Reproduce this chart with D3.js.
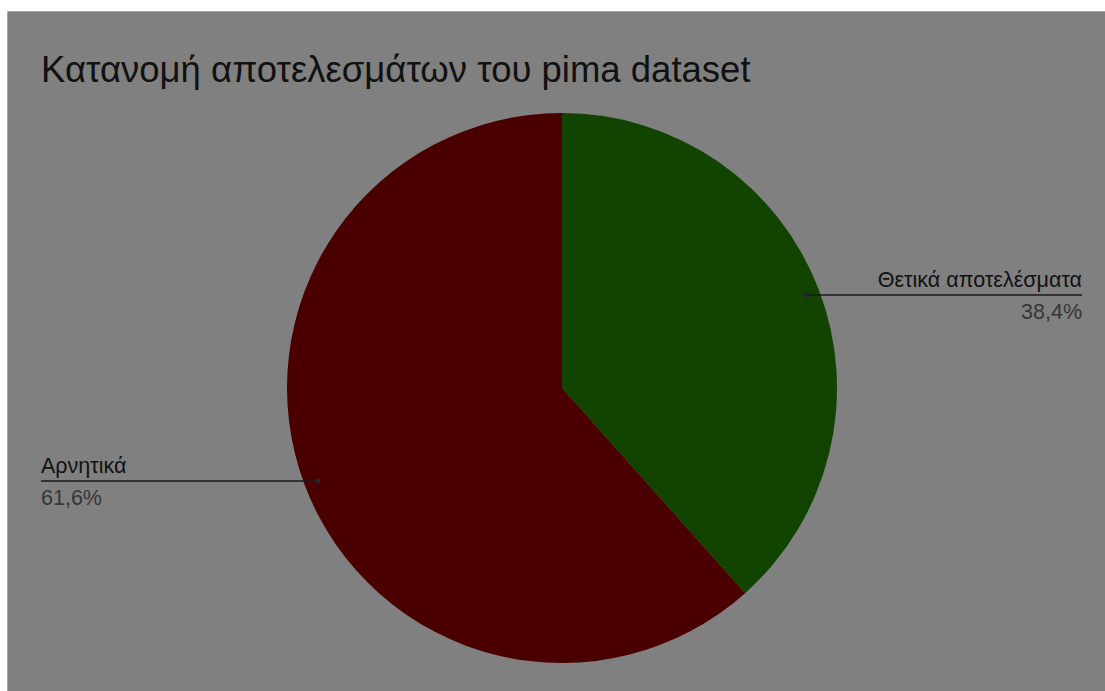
<!DOCTYPE html>
<html>
<head>
<meta charset="utf-8">
<script src="https://cdn.jsdelivr.net/npm/d3@7"></script>
<style>
  body { margin: 0; background: #fff; }
  svg { display: block; }
</style>
</head>
<body>
<div id="container"></div>
<script>
/* CONSTANTS AND GLOBALS */
const width = 1105,
  height = 691;

// data
const labels = ["Θετικά αποτελέσματα", "Αρνητικά"];
const values = [38.4, 61.6];
const colors = ["#114400", "#4a0000"];
const title = "Κατανομή αποτελεσμάτων του pima dataset";

const cx = 562, cy = 388, radius = 275;

const svg = d3.select("#container")
  .append("svg")
  .attr("width", width)
  .attr("height", height);

// background panel
svg.append("rect")
  .attr("x", 8).attr("y", 11)
  .attr("width", width - 8).attr("height", height - 11)
  .attr("fill", "#808080");
svg.append("line")
  .attr("x1", 7.5).attr("x2", width).attr("y1", 11.5).attr("y2", 11.5)
  .attr("stroke", "#a6a6a6");
svg.append("line")
  .attr("x1", 7.5).attr("x2", 7.5).attr("y1", 11.5).attr("y2", height)
  .attr("stroke", "#a6a6a6");

svg.append("text")
  .attr("x", 41).attr("y", 82)
  .attr("font-family", "Liberation Sans, Arial, sans-serif")
  .attr("font-size", 36.5)
  .attr("fill", "#111")
  .text(title);

/* PIE */
const data = labels.map((l, i) => ({ label: l, value: values[i], color: colors[i] }));
const pie = d3.pie().sort(null).value(d => d.value);
const arcs = pie(data);
const arc = d3.arc().innerRadius(0).outerRadius(radius);

const g = svg.append("g").attr("transform", `translate(${cx},${cy})`);
g.selectAll("path")
  .data(arcs)
  .join("path")
  .attr("d", arc)
  .attr("fill", d => d.data.color);

/* LABELS */
const labelArc = d3.arc().innerRadius(radius * 0.95).outerRadius(radius * 0.95);
const labelPos = [
  { side: "right", xEnd: 1082 },
  { side: "left", xEnd: 41 }
];

arcs.forEach((a, i) => {
  const [px, py] = labelArc.centroid(a);
  const x0 = cx + px, y0 = cy + py;
  const lp = labelPos[i];
  const lg = svg.append("g");
  lg.append("line")
    .attr("x1", x0).attr("y1", y0)
    .attr("x2", lp.xEnd).attr("y2", y0)
    .attr("stroke", "#1a1a1a").attr("stroke-width", 1.5);
  lg.append("circle")
    .attr("cx", x0).attr("cy", y0).attr("r", 2.5)
    .attr("fill", "#262626");
  const anchor = lp.side === "right" ? "end" : "start";
  lg.append("text")
    .attr("x", lp.xEnd).attr("y", y0 - 8)
    .attr("text-anchor", anchor)
    .attr("font-family", "Liberation Sans, Arial, sans-serif")
    .attr("font-size", 21.5)
    .attr("fill", "#111")
    .text(a.data.label);
  lg.append("text")
    .attr("x", lp.xEnd).attr("y", y0 + 24)
    .attr("text-anchor", anchor)
    .attr("font-family", "Liberation Sans, Arial, sans-serif")
    .attr("font-size", 21.5)
    .attr("fill", "#363636")
    .text(d3.format(".1f")(a.data.value).replace(".", ",") + "%");
});
</script>
</body>
</html>
